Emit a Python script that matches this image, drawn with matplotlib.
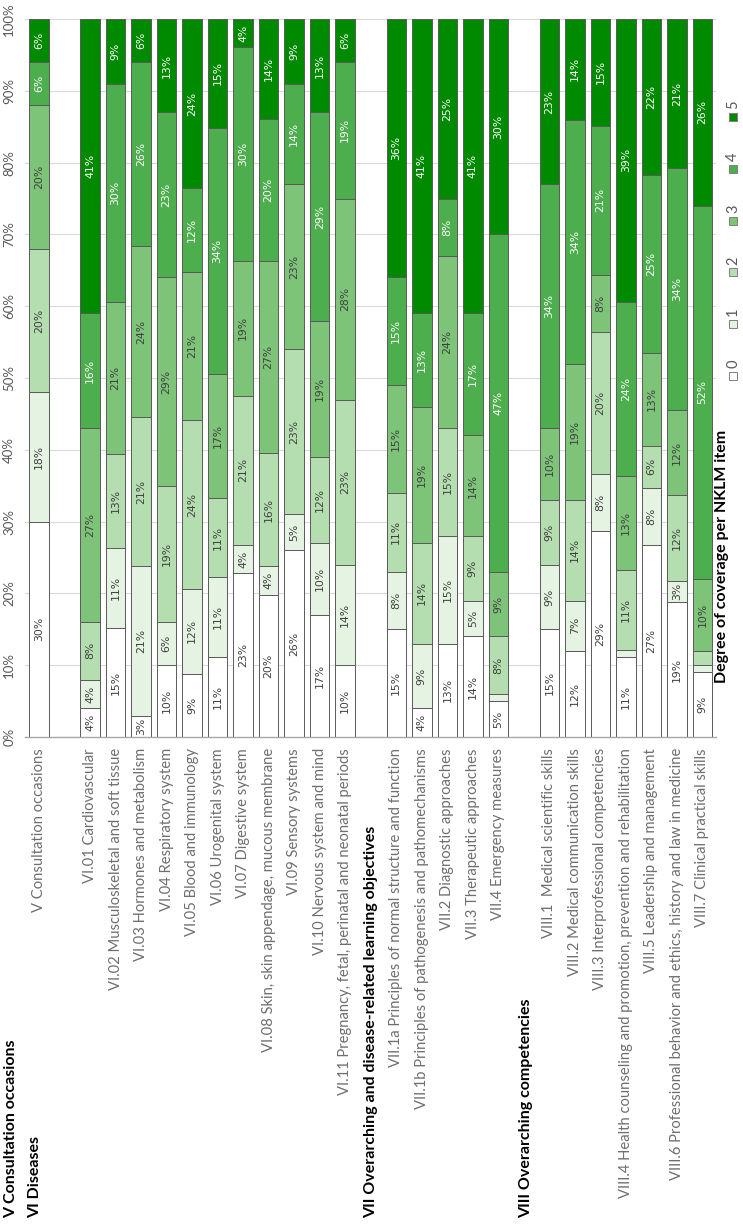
import numpy as np
import matplotlib.pyplot as plt
from matplotlib.patches import Rectangle
from matplotlib.transforms import blended_transform_factory

W, H = 743, 1226

groups = ["V Consultation occasions", "VI Diseases",
          "VII Overarching and disease-related learning objectives",
          "VIII Overarching competencies"]

items = [
    "V Consultation occasions",
    "VI.01 Cardiovascular",
    "VI.02 Musculoskeletal and soft tissue",
    "VI.03 Hormones and metabolism",
    "VI.04 Respiratory system",
    "VI.05 Blood and immunology",
    "VI.06 Urogenital system",
    "VI.07 Digestive system",
    "VI.08 Skin, skin appendage, mucous membrane",
    "VI.09 Sensory systems",
    "VI.10 Nervous system and mind",
    "VI.11 Pregnancy, fetal, perinatal and neonatal periods",
    "VII.1a Principles of normal structure and function",
    "VII.1b Principles of pathogenesis and pathomechanisms",
    "VII.2 Diagnostic approaches",
    "VII.3 Therapeutic approaches",
    "VII.4 Emergency measures",
    "VIII.1  Medical scientific skills",
    "VIII.2 Medical communication skills",
    "VIII.3 Interprofessional competencies",
    "VIII.4 Health counseling and promotion, prevention and rehabilitation",
    "VIII.5 Leadership and management",
    "VIII.6 Professional behavior and ethics, history and law in medicine",
    "VIII.7 Clinical practical skills",
]
item_group = [0] + [1] * 11 + [2] * 5 + [3] * 7

levels = ["0", "1", "2", "3", "4", "5"]
cov0 = [30, 4, 15, 3, 10, 9, 11, 23, 20, 26, 17, 10, 15, 4, 13, 14, 5, 15, 12, 29, 11, 27, 19, 9]
cov1 = [18, 4, 11, 21, 6, 12, 11, 4, 4, 5, 10, 14, 8, 9, 15, 5, 1, 9, 7, 8, 1, 8, 3, 1]
cov2 = [20, 8, 13, 21, 19, 24, 11, 21, 16, 23, 12, 23, 11, 14, 15, 9, 8, 9, 14, 20, 11, 6, 12, 2]
cov3 = [20, 27, 21, 24, 29, 21, 17, 19, 27, 23, 19, 28, 15, 19, 24, 14, 9, 10, 19, 8, 13, 13, 12, 10]
cov4 = [6, 16, 30, 26, 23, 12, 34, 30, 20, 14, 29, 19, 15, 13, 8, 17, 47, 34, 34, 21, 24, 25, 34, 52]
cov5 = [6, 41, 9, 6, 13, 24, 15, 4, 14, 9, 13, 6, 36, 41, 25, 41, 30, 23, 14, 15, 39, 22, 21, 26]

colors = ["#ffffff", "#e5f3e2", "#b5deb0", "#7dc479", "#4cae4c", "#008a00"]
label_colors = ["#404040", "#404040", "#404040", "#404040", "#ffffff", "#ffffff"]
header_slot = [-1.1, -0.15, 13.0, 19.1]

cov = np.array([cov0, cov1, cov2, cov3, cov4, cov5], dtype=float)
share = cov / cov.sum(axis=0) * 100
slots = np.arange(len(items)) + np.array(item_group)

fig = plt.figure(figsize=(W / 100, H / 100), dpi=100)
ax = fig.add_axes([25 / W, 1 - 737 / H, 691 / W, 718 / H])

bottom = np.zeros(len(items))
for k in range(6):
    ax.bar(slots, share[k], bottom=bottom, width=0.764, color=colors[k],
           edgecolor="#5a5a5a", linewidth=0.7, zorder=2)
    for s, b, h, v in zip(slots, bottom, share[k], cov[k]):
        if v >= 3:
            ax.text(s, b + h / 2, f"{int(v)}%", rotation=90, ha="center", va="center",
                    fontsize=7.8, color=label_colors[k],
                    family=["Liberation Sans Narrow", "DejaVu Sans"], zorder=3)
    bottom += share[k]

ax.set_xlim(-0.549, 26.53)
ax.set_ylim(0, 100)
ax.set_yticks(np.arange(0, 101, 10))
ax.set_yticklabels([f"{t}%" for t in range(0, 101, 10)], rotation=90, va="center",
                   fontsize=9.5, color="#595959", family="Lato")
ax.set_xticks(slots)
ax.set_xticklabels(items, rotation=90, ha="center", va="top", fontsize=10.6,
                   color="#6e6e6e", family="Lato")
ax.tick_params(axis="both", length=0)
ax.tick_params(axis="x", pad=8)
ax.tick_params(axis="y", pad=7)
ax.yaxis.grid(True, color="#d9d9d9", linewidth=0.8, zorder=0)
ax.set_axisbelow(True)
for side in ["top", "right", "left"]:
    ax.spines[side].set_visible(False)
ax.spines["bottom"].set_color("#a6a6a6")
ax.spines["bottom"].set_linewidth(1.0)

trans = blended_transform_factory(ax.transData, ax.transAxes)
for g, hx in zip(groups, header_slot):
    ax.text(hx, (737 - 1218) / 718, g, transform=trans, rotation=90, ha="center",
            va="bottom", fontsize=11.5, fontweight="bold", color="black",
            family="Lato", clip_on=False)

# legend drawn by hand, rotated like the rest of the chart
for k, lev in enumerate(levels):
    yk = 369 - k * 51.8
    fig.add_artist(Rectangle(((733 - 4) / W, 1 - (yk + 11) / H), 8 / W, 8 / H,
                             transform=fig.transFigure, facecolor=colors[k],
                             edgecolor="#7f7f7f", linewidth=0.7))
    fig.text(733 / W, 1 - (yk - 5) / H, lev, rotation=90, ha="center", va="center",
             fontsize=10.5, color="#595959", family="Lato")

fig.text(722 / W, 1 - 556 / H, "Degree of coverage per NKLM item", rotation=90,
         ha="center", va="center", fontsize=11.5, fontweight="bold", family="Lato")

fig.savefig("out.png", dpi=100)
